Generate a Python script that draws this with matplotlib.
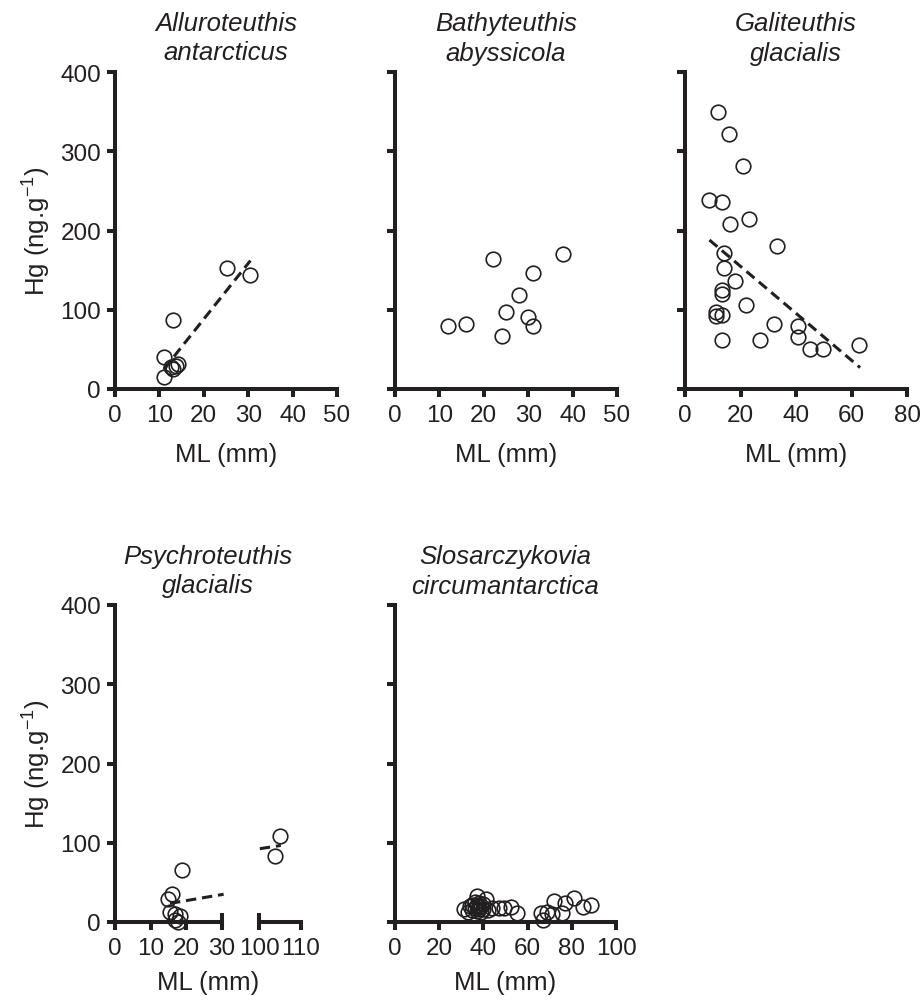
import matplotlib.pyplot as plt
import numpy as np
from matplotlib.transforms import blended_transform_factory

plt.rcParams['font.family'] = ['Liberation Sans', 'DejaVu Sans']
plt.rcParams['mathtext.fontset'] = 'custom'
plt.rcParams['mathtext.rm'] = 'Liberation Sans'

INK = '#231f20'
FS_TICK = 17.5
FS_TXT = 18.5

# ---- data (ML in mm, Hg in ng/g) ----
allu_ml = [25.2, 30.3, 13.1, 11.1, 11.1, 13.1, 14.2, 13.8, 12.6]
allu_hg = [153, 144, 87, 41, 15, 25, 32, 29, 28]
allu_fit_ml = [11.0, 30.5]
allu_fit_hg = [25, 162]

bathy_ml = [12.0, 16.0, 22.1, 24.0, 25.0, 28.0, 30.0, 31.0, 31.0, 37.9]
bathy_hg = [79, 82, 164, 67, 97, 119, 91, 147, 80, 170]

gali_ml = [12.0, 16.0, 21.0, 8.8, 13.2, 16.2, 23.1, 33.0, 14.1, 14.1, 18.0, 13.2, 13.2,
           22.0, 11.2, 11.3, 13.2, 32.1, 40.8, 40.8, 13.2, 27.0, 45.0, 49.8, 62.8]
gali_hg = [349, 322, 282, 238, 236, 208, 214, 181, 171, 153, 136, 125, 120,
           106, 97, 92, 94, 82, 79, 65, 62, 62, 51, 51, 55]
gali_fit_ml = [8.8, 63.1]
gali_fit_hg = [188, 27]

psy_ml = [18.8, 16.0, 15.0, 15.5, 16.9, 18.3, 17.8, 17.0]
psy_hg = [66, 35, 29, 13, 10, 8, 0, 3]
psy_fit_ml = [15.5, 30.6]
psy_fit_hg = [23.5, 35]
psy_big_ml = [105.0, 103.8]
psy_big_hg = [109, 83]
psy_big_fit_ml = [100.2, 105.2]
psy_big_fit_hg = [92.5, 96.6]

slo_ml = [31, 33, 34, 35, 35, 36, 36, 37, 37, 37, 38, 38, 38, 39, 39, 40, 40, 41, 42,
          44, 47, 49.5, 52.5, 55, 66, 67, 69, 71, 72, 75.5, 77, 81, 85, 88.5]
slo_hg = [17, 12, 20, 15, 22, 18, 25, 33, 14, 21, 19, 16, 24, 12, 20, 17, 23, 29, 15,
          17.5, 17.5, 18, 18.5, 11, 11, 2, 13, 10, 26, 11, 24, 30, 19, 22]

W, H = 922, 1003
fig = plt.figure(figsize=(W / 100, H / 100), dpi=100)


def rect(x0, y0, x1, y1):
    # pixel box (top-left origin) -> figure fraction
    return [x0 / W, 1 - y1 / H, (x1 - x0) / W, (y1 - y0) / H]


def style(ax, ylabels=True, left=True):
    for s in ['top', 'right']:
        ax.spines[s].set_visible(False)
    ax.spines['left'].set_visible(left)
    for s in ['left', 'bottom']:
        ax.spines[s].set_linewidth(2.9)
        ax.spines[s].set_color(INK)
    ax.tick_params(width=2.9, length=6, color=INK, labelcolor=INK, labelsize=FS_TICK, pad=4)
    ax.tick_params(axis='x', pad=5)
    ax.set_ylim(0, 400)
    ax.set_yticks([0, 100, 200, 300, 400])
    if not ylabels:
        ax.set_yticklabels([])
    if not left:
        ax.tick_params(axis='y', left=False, labelleft=False)


def pts(ax, x, y):
    ax.plot(x, y, 'o', ms=10.5, mfc='none', mec=INK, mew=1.2, clip_on=False, zorder=3)


def fit(ax, x, y):
    ax.plot(x, y, '--', color=INK, lw=2.2, dashes=(3.4, 1.9), clip_on=False, zorder=4)


def title(ax, txt, x=0.5):
    ax.set_title(txt, fontsize=FS_TXT, style='italic', color=INK, pad=9,
                 linespacing=1.3, x=x)


ax1 = fig.add_axes(rect(115, 73, 337, 390))
pts(ax1, allu_ml, allu_hg)
fit(ax1, allu_fit_ml, allu_fit_hg)
style(ax1)
ax1.set_xlim(0, 50)
ax1.set_xticks(range(0, 51, 10))
title(ax1, 'Alluroteuthis\nantarcticus')

ax2 = fig.add_axes(rect(395, 73, 617, 390))
pts(ax2, bathy_ml, bathy_hg)
style(ax2, ylabels=False)
ax2.set_xlim(0, 50)
ax2.set_xticks(range(0, 51, 10))
title(ax2, 'Bathyteuthis\nabyssicola')

ax3 = fig.add_axes(rect(685, 73, 907, 390))
pts(ax3, gali_ml, gali_hg)
fit(ax3, gali_fit_ml, gali_fit_hg)
style(ax3, ylabels=False)
ax3.set_xlim(0, 80)
ax3.set_xticks(range(0, 81, 20))
title(ax3, 'Galiteuthis\nglacialis')

# broken x axis for Psychroteuthis
ax4 = fig.add_axes(rect(115, 606, 221.5, 923))
pts(ax4, psy_ml, psy_hg)
fit(ax4, psy_fit_ml, psy_fit_hg)
style(ax4)
ax4.set_xlim(0, 30)
ax4.set_xticks([0, 10, 20, 30])
title(ax4, 'Psychroteuthis\nglacialis', x=(208 - 115) / 106.5)

ax4b = fig.add_axes(rect(259, 606, 301, 923))
pts(ax4b, psy_big_ml, psy_big_hg)
fit(ax4b, psy_big_fit_ml, psy_big_fit_hg)
style(ax4b, left=False)
ax4b.set_xlim(100, 110)
ax4b.set_xticks([100, 110])
ax4b.patch.set_alpha(0)

for ax, xb in [(ax4, 30), (ax4b, 100)]:
    tr = blended_transform_factory(ax.transData, ax.transAxes)
    ax.plot([xb, xb], [0, 0.027], color=INK, lw=2.9, transform=tr, clip_on=False,
            solid_capstyle='butt')

fig.text(208 / W, 1 - 983 / H, 'ML (mm)', fontsize=FS_TXT, color=INK, ha='center', va='center')

ax5 = fig.add_axes(rect(395, 606, 616, 923))
pts(ax5, slo_ml, slo_hg)
style(ax5, ylabels=False)
ax5.set_xlim(0, 100)
ax5.set_xticks(range(0, 101, 20))
title(ax5, 'Slosarczykovia\ncircumantarctica')

for ax in [ax1, ax2, ax3]:
    ax.set_xlabel('ML (mm)', fontsize=FS_TXT, color=INK, labelpad=11)
ax5.set_xlabel('ML (mm)', fontsize=FS_TXT, color=INK, labelpad=8)
for ax in [ax1, ax4]:
    ax.set_ylabel('Hg (ng.g$^{\\mathregular{-1}}$)', fontsize=FS_TXT, color=INK, labelpad=6)

fig.savefig('out.png', dpi=100)
